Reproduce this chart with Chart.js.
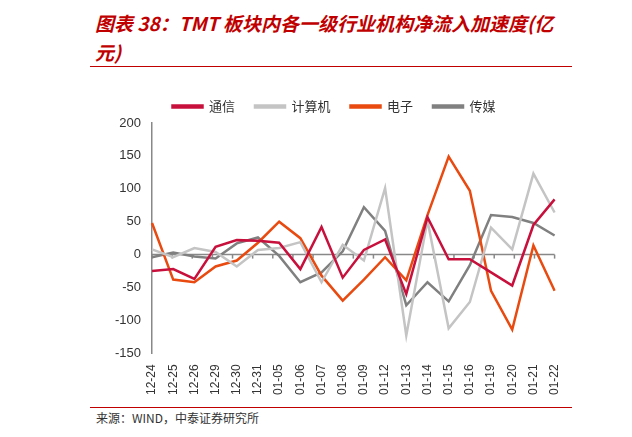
<!DOCTYPE html>
<html><head><meta charset="utf-8">
<script src="https://cdn.jsdelivr.net/npm/chart.js@4"></script>
<style>
body{margin:0;background:#fff;width:632px;height:437px;position:relative;overflow:hidden;font-family:"Noto Sans CJK SC",sans-serif}
#title{position:absolute;left:95px;top:8px;width:462px;color:#c00000;font-style:italic;font-weight:bold;font-size:19px;line-height:29px}
#line1{position:absolute;left:90px;top:66px;width:482px;height:1px;background:#c00000}
#line2{position:absolute;left:90px;top:407px;width:482px;height:1px;background:#c00000}
#src{position:absolute;left:96px;top:409px;font-size:12px;color:#333}
#box{position:absolute;left:90px;top:72px;width:482px;height:326px}
</style></head><body>
<div id="title">图表 38：TMT 板块内各一级行业机构净流入加速度(亿元)</div>
<div id="line1"></div>
<div id="box"><canvas id="c"></canvas></div>
<div id="line2"></div>
<div id="src">来源：WIND，中泰证券研究所</div>
<script>
// 日期
const labels = ['12-24','12-25','12-26','12-29','12-30','12-31','01-05','01-06','01-07','01-08','01-09','01-12','01-13','01-14','01-15','01-16','01-19','01-20','01-21','01-22'];
const tongxin = [-25,-22,-37,12,22,21,18,-22,42,-35,7,23,-60,57,-7,-7,-27,-47,45,84];
const jisuanji = [8,-4,10,4,-18,7,10,19,-42,15,-9,101,-123,52,-112,-72,41,8,123,64];
const dianzi = [48,-38,-42,-18,-9,18,50,25,-32,-70,-38,-4,-39,60,149,97,-55,-114,14,-55];
const chuanmei = [-4,3,-3,-6,17,26,-2,-42,-27,5,72,36,-77,-42,-71,-16,60,57,48,29];

const ds = (label, data, color) => ({label, data, borderColor: color, backgroundColor: color, borderWidth: 2.5, pointRadius: 0, tension: 0});

new Chart(document.getElementById('c'), {
  type: 'line',
  data: {labels, datasets: [
    ds('通信', tongxin, '#c8103c'),
    ds('计算机', jisuanji, '#c4c4c4'),
    ds('电子', dianzi, '#e84a10'),
    ds('传媒', chuanmei, '#808080')
  ]},
  options: {
    responsive: true, maintainAspectRatio: false, animation: false,
    layout: {padding: {left: 22, right: 16, top: 8, bottom: 0}},
    plugins: {legend: {labels: {boxWidth: 30, boxHeight: 2, font: {size: 13, family: 'Noto Sans CJK SC'}, color: '#333', padding: 20}}},
    scales: {
      x: {grid: {display: false, drawTicks: true}, border: {display: false},
        ticks: {maxRotation: 90, minRotation: 90, font: {size: 12, family: 'Liberation Sans'}, color: '#333', autoSkip: false}},
      y: {min: -150, max: 200, grid: {display: false}, border: {color: '#888', width: 1.5},
        ticks: {stepSize: 50, font: {size: 13, family: 'Liberation Sans'}, color: '#333'}}
    }
  },
  plugins: [{
    id: 'zeroLine',
    beforeDatasetsDraw(chart) {
      const {ctx, scales: {x, y}} = chart;
      const y0 = y.getPixelForValue(0);
      ctx.save();
      ctx.strokeStyle = '#888'; ctx.lineWidth = 1.5;
      ctx.beginPath(); ctx.moveTo(x.left, y0); ctx.lineTo(x.right, y0); ctx.stroke();
      for (let i = 0; i <= labels.length; i++) {
        const px = x.left + (x.right - x.left) * i / labels.length;
        ctx.beginPath(); ctx.moveTo(px, y0); ctx.lineTo(px, y0 + 4); ctx.stroke();
      }
      ctx.restore();
    }
  }]
});
</script>
</body></html>
